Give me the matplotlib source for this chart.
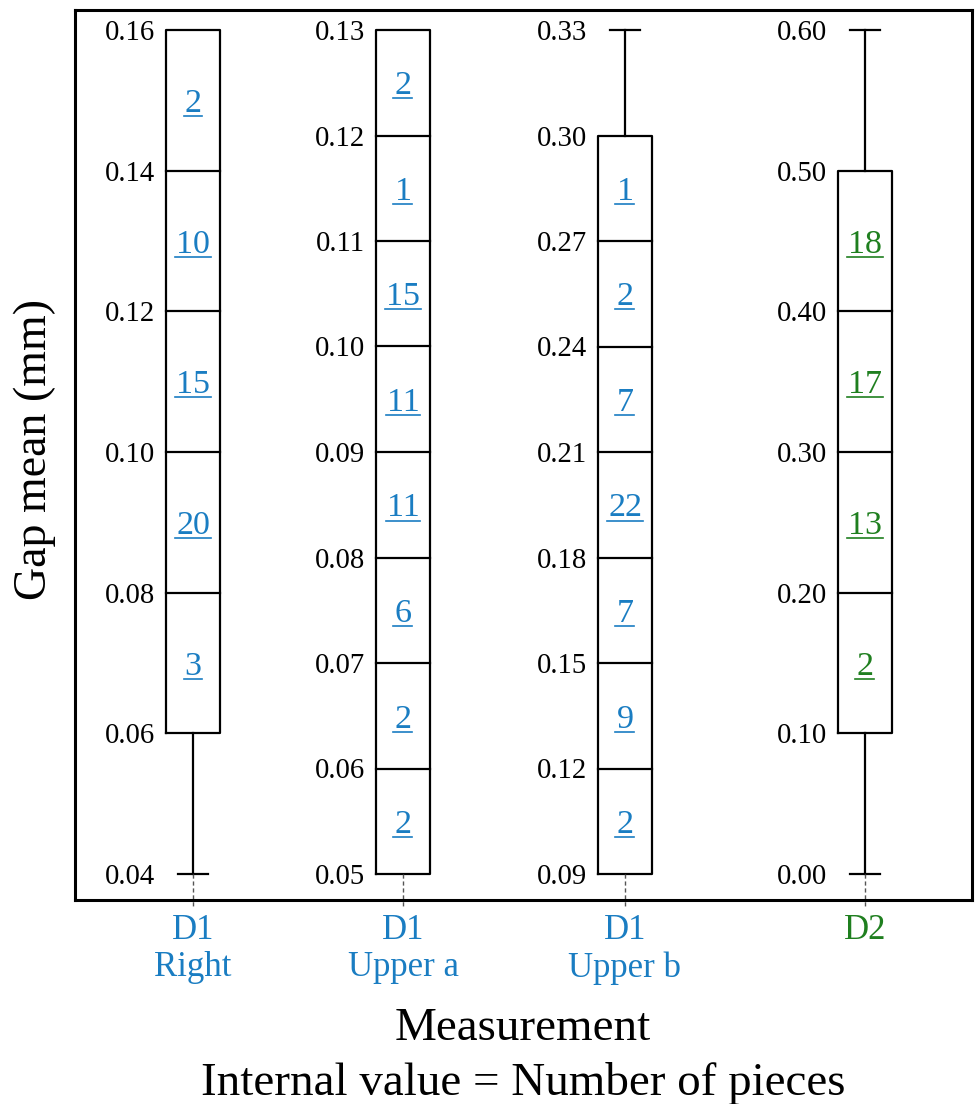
import matplotlib
matplotlib.use("Agg")
from matplotlib import pyplot as plt

plt.rcParams['font.family'] = ['Liberation Serif', 'DejaVu Serif']

# data
names = ["D1\nRight", "D1\nUpper a", "D1\nUpper b", "D2"]
colors = ["#1a7dc2", "#1a7dc2", "#1a7dc2", "#1f7f1f"]
# tick labels of each column's own scale (bottom -> top)
ticks_right = [0.04, 0.06, 0.08, 0.10, 0.12, 0.14, 0.16]
ticks_upper_a = [0.05, 0.06, 0.07, 0.08, 0.09, 0.10, 0.11, 0.12, 0.13]
ticks_upper_b = [0.09, 0.12, 0.15, 0.18, 0.21, 0.24, 0.27, 0.30, 0.33]
ticks_d2 = [0.00, 0.10, 0.20, 0.30, 0.40, 0.50, 0.60]
# box segment edges and counts (bottom -> top)
edges_right = [0.06, 0.08, 0.10, 0.12, 0.14, 0.16]
counts_right = [3, 20, 15, 10, 2]
edges_upper_a = [0.05, 0.06, 0.07, 0.08, 0.09, 0.10, 0.11, 0.12, 0.13]
counts_upper_a = [2, 2, 6, 11, 11, 15, 1, 2]
edges_upper_b = [0.09, 0.12, 0.15, 0.18, 0.21, 0.24, 0.27, 0.30]
counts_upper_b = [2, 9, 7, 22, 7, 2, 1]
edges_d2 = [0.10, 0.20, 0.30, 0.40, 0.50]
counts_d2 = [2, 13, 17, 18]
# whisker ends (low, high)
whiskers = [(0.04, 0.16), (0.05, 0.13), (0.09, 0.33), (0.00, 0.60)]

ticks = [ticks_right, ticks_upper_a, ticks_upper_b, ticks_d2]
edges = [edges_right, edges_upper_a, edges_upper_b, edges_d2]
counts = [counts_right, counts_upper_a, counts_upper_b, counts_d2]

# layout
xpos = [118, 328, 550, 790]
half_w = 27
cap_w = 15

fig = plt.figure(figsize=(9.75, 11.04), dpi=100)
ax = fig.add_axes([75/975, 204/1104, 897/975, 890/1104])
ax.set_xlim(0, 897)
ax.set_ylim(-26/844, 1 + 20/844)
ax.set_xticks([])
ax.set_yticks([])
for s in ax.spines.values():
    s.set_linewidth(2.2)

count_texts = []
for i in range(4):
    lo, hi = ticks[i][0], ticks[i][-1]
    norm = lambda v: (v - lo) / (hi - lo)
    x = xpos[i]
    e = [norm(v) for v in edges[i]]
    # box
    ax.plot([x - half_w, x + half_w, x + half_w, x - half_w, x - half_w],
            [e[0], e[0], e[-1], e[-1], e[0]], color='black', lw=1.6)
    for v in e[1:-1]:
        ax.plot([x - half_w, x + half_w], [v, v], color='black', lw=1.6)
    # whiskers
    wlo, whi = norm(whiskers[i][0]), norm(whiskers[i][1])
    if wlo < e[0]:
        ax.plot([x, x], [wlo, e[0]], color='black', lw=1.6)
        ax.plot([x - cap_w, x + cap_w], [wlo, wlo], color='black', lw=1.6)
    if whi > e[-1]:
        ax.plot([x, x], [e[-1], whi], color='black', lw=1.6)
        ax.plot([x - cap_w, x + cap_w], [whi, whi], color='black', lw=1.6)
    # dashed stub below
    ax.plot([x, x], [0, -34/844], color='#555555', lw=1, ls=(0, (3, 2)), clip_on=False)
    # counts
    for j, c in enumerate(counts[i]):
        t = ax.text(x, (e[j] + e[j+1]) / 2, str(c),
                    color=colors[i], fontsize=24.5, ha='center', va='center_baseline')
        count_texts.append(t)
    # tick labels
    for t in ticks[i]:
        ax.text(x - 38, norm(t), "%.2f" % t, fontsize=20.7, ha='right',
                va='center_baseline')
    # category label
    ax.text(x, -40/844, names[i], color=colors[i],
            fontsize=25, ha='center', va='top', linespacing=1.18, clip_on=False)

# underline the counts
fig.canvas.draw()
r = fig.canvas.get_renderer()
inv = ax.transData.inverted()
for t in count_texts:
    bb = t.get_window_extent(r)
    (x0, y0), (x1, _) = inv.transform([(bb.x0 - 1, bb.y0 + 3), (bb.x1 + 1, bb.y0)])
    ax.plot([x0, x1], [y0, y0], color=t.get_color(), lw=1.2)

fig.text(35/975, 1 - 450/1104, "Gap mean (mm)", rotation=90, fontsize=33,
         ha='center', va='center')
fig.text(523/975, 1 - 1040/1104, "Measurement", fontsize=33.8, ha='center', va='baseline')
fig.text(523/975, 1 - 1095/1104, "Internal value = Number of pieces", fontsize=33.8,
         ha='center', va='baseline')

fig.savefig("out.png", dpi=100)
